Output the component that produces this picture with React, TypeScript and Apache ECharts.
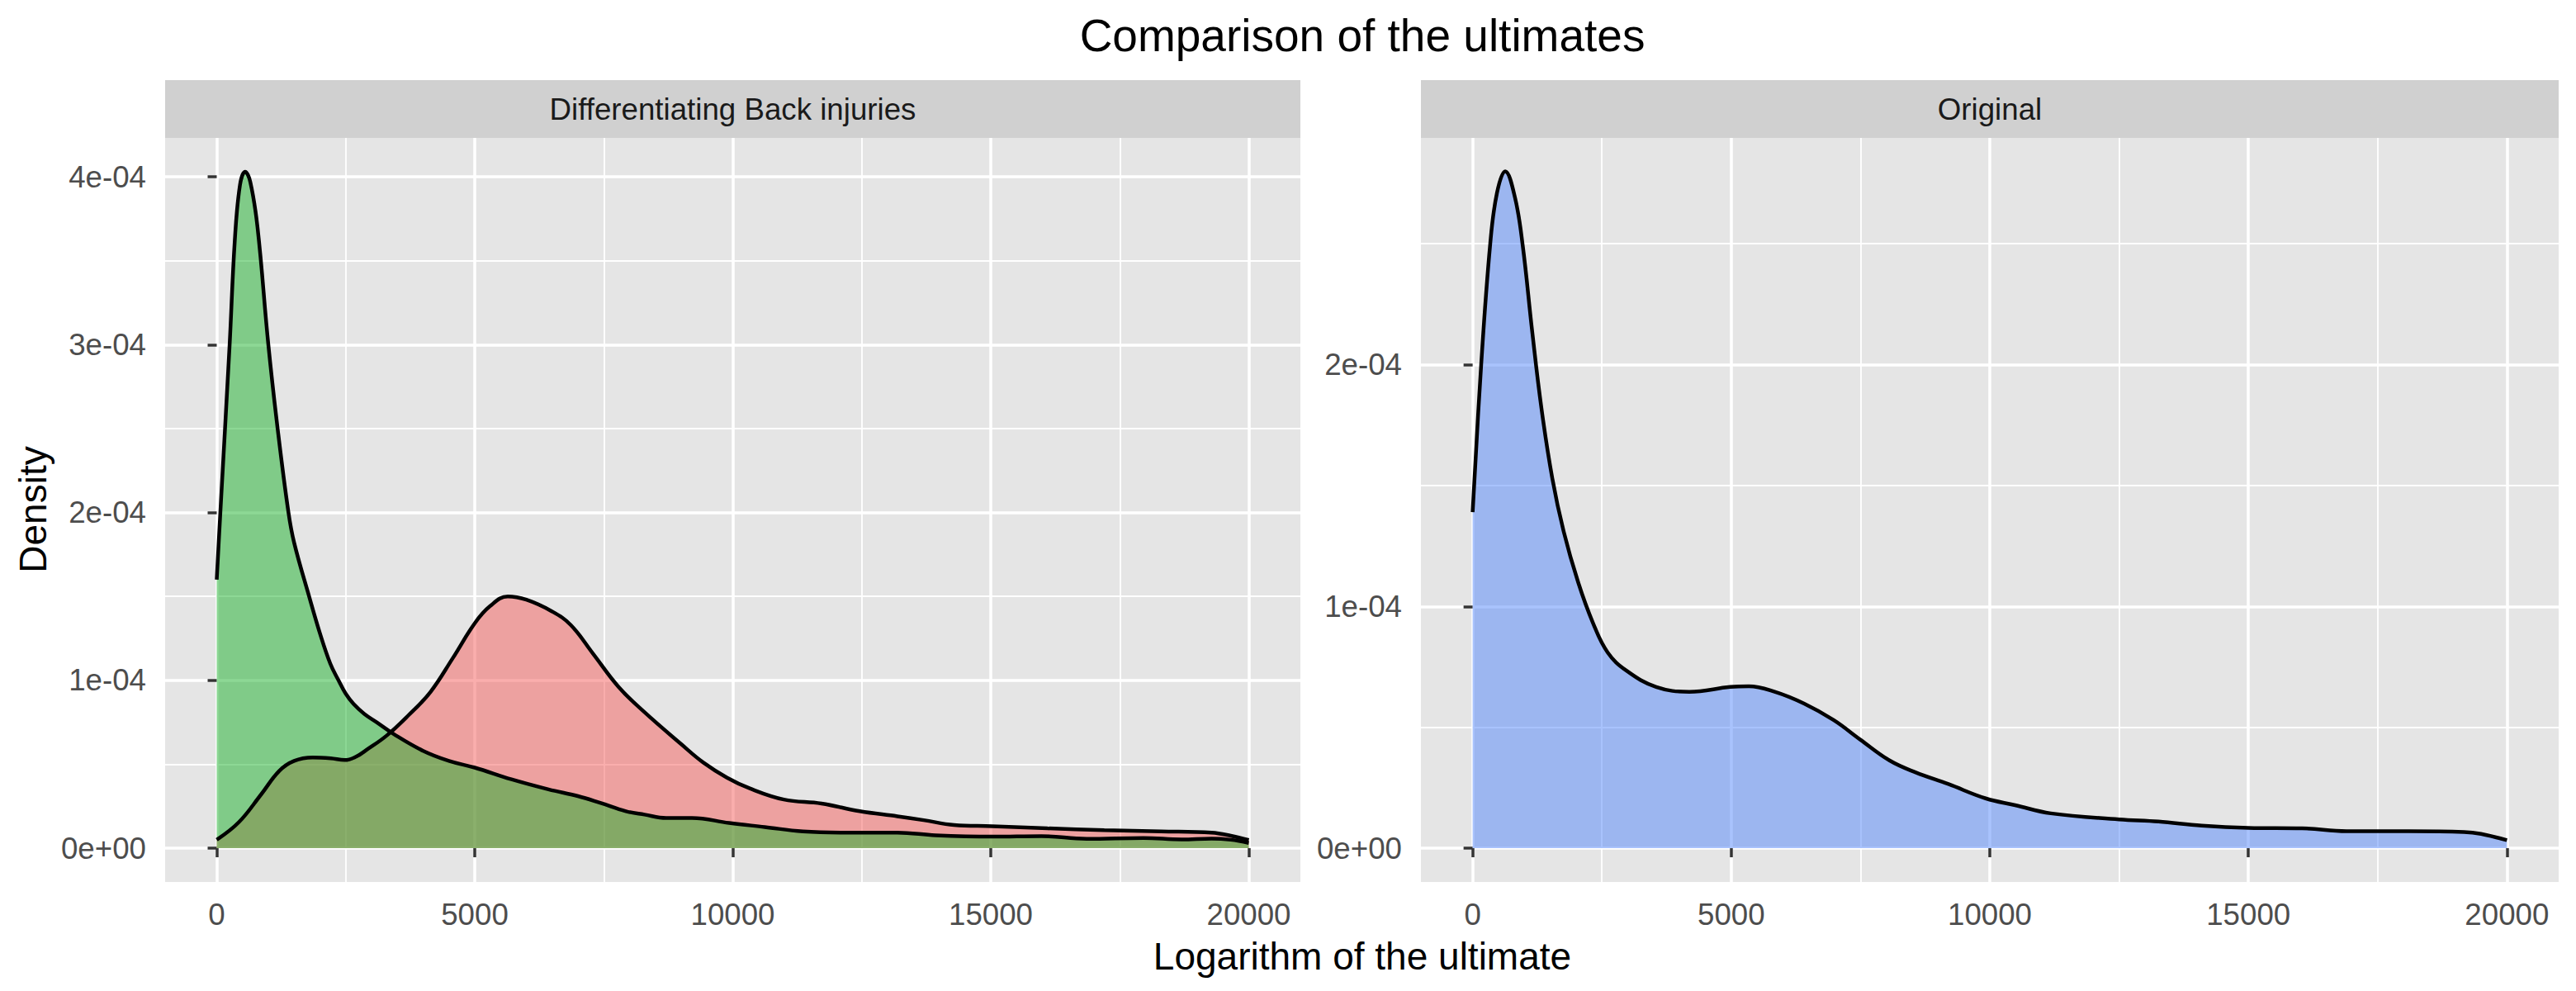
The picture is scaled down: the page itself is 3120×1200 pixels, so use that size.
import { useEffect, useRef } from 'react'
import * as echarts from 'echarts'

const FONT = '"Liberation Sans", Arial, Helvetica, sans-serif'

// "Differentiating Back injuries" facet: two groups
const redX = [0, 430, 860, 1210, 1500, 1860, 2210, 2480, 2700, 2900, 3290, 3710, 4140, 4570, 5000, 5290, 5640, 6000, 6500, 6860, 7290, 7790, 8290, 9000, 9430, 9890, 10330, 10990, 11720, 12460, 13190, 13700, 14290, 15030, 16100, 17200, 18300, 19280, 19650, 20000]
const redY = [0.05e-4, 0.155e-4, 0.32e-4, 0.46e-4, 0.52e-4, 0.54e-4, 0.535e-4, 0.525e-4, 0.545e-4, 0.585e-4, 0.67e-4, 0.79e-4, 0.93e-4, 1.13e-4, 1.34e-4, 1.44e-4, 1.5e-4, 1.48e-4, 1.41e-4, 1.33e-4, 1.16e-4, 0.96e-4, 0.81e-4, 0.62e-4, 0.51e-4, 0.42e-4, 0.356e-4, 0.29e-4, 0.266e-4, 0.22e-4, 0.19e-4, 0.167e-4, 0.138e-4, 0.131e-4, 0.118e-4, 0.107e-4, 0.1e-4, 0.092e-4, 0.074e-4, 0.048e-4]

const greenX = [0, 70, 250, 350, 450, 550, 650, 790, 1000, 1180, 1390, 1500, 1790, 2000, 2200, 2360, 2500, 2650, 2860, 3100, 3430, 4000, 4500, 5000, 5710, 6430, 7000, 7430, 7930, 8290, 8710, 9210, 9930, 10620, 11360, 12460, 13190, 13930, 15030, 15980, 16860, 17960, 18700, 19280, 19650, 20000]
const greenY = [1.6e-4, 2.0e-4, 3.0e-4, 3.62e-4, 3.95e-4, 4.03e-4, 3.97e-4, 3.7e-4, 3.0e-4, 2.5e-4, 2.0e-4, 1.82e-4, 1.5e-4, 1.28e-4, 1.1e-4, 1.0e-4, 0.92e-4, 0.86e-4, 0.8e-4, 0.75e-4, 0.68e-4, 0.58e-4, 0.52e-4, 0.48e-4, 0.41e-4, 0.35e-4, 0.31e-4, 0.27e-4, 0.22e-4, 0.2e-4, 0.18e-4, 0.18e-4, 0.15e-4, 0.126e-4, 0.1e-4, 0.092e-4, 0.093e-4, 0.077e-4, 0.069e-4, 0.072e-4, 0.056e-4, 0.061e-4, 0.052e-4, 0.057e-4, 0.05e-4, 0.031e-4]

// "Original" facet
const blueX = [0, 165, 340, 470, 630, 820, 970, 1150, 1330, 1540, 1760, 2040, 2330, 2610, 2970, 3550, 4190, 4980, 5340, 5840, 6410, 6980, 7490, 8060, 8560, 9200, 9920, 10490, 11180, 12500, 13260, 14100, 15000, 16040, 16900, 18100, 19170, 19500, 20000]
const blueY = [1.39e-4, 2.0e-4, 2.5e-4, 2.71e-4, 2.8e-4, 2.69e-4, 2.49e-4, 2.14e-4, 1.82e-4, 1.53e-4, 1.31e-4, 1.1e-4, 0.93e-4, 0.81e-4, 0.735e-4, 0.667e-4, 0.647e-4, 0.667e-4, 0.67e-4, 0.647e-4, 0.598e-4, 0.53e-4, 0.45e-4, 0.363e-4, 0.314e-4, 0.265e-4, 0.206e-4, 0.178e-4, 0.144e-4, 0.119e-4, 0.11e-4, 0.093e-4, 0.084e-4, 0.082e-4, 0.07e-4, 0.07e-4, 0.067e-4, 0.059e-4, 0.033e-4]

const xMajor = [0, 5000, 10000, 15000, 20000]
const xMinor = [2500, 7500, 12500, 17500]
const leftYMajor = [0, 1e-4, 2e-4, 3e-4, 4e-4]
const leftYMinor = [0.5e-4, 1.5e-4, 2.5e-4, 3.5e-4]
const rightYMajor = [0, 1e-4, 2e-4]
const rightYMinor = [0.5e-4, 1.5e-4, 2.5e-4]

const facetNames = ['Differentiating Back injuries', 'Original']

const sci = (v: number) => (v === 0 ? '0e+00' : `${Math.round(v * 1e4)}e-04`)

const GRIDS = [
  { left: 200, top: 167, width: 1375, height: 901 },
  { left: 1721, top: 167, width: 1378, height: 901 },
]

function xAxes(gridIndex: number) {
  return [
    {
      type: 'value', gridIndex, min: -1000, max: 21000,
      axisLine: { show: false },
      axisTick: { customValues: xMajor, length: 11, lineStyle: { color: '#333333', width: 3.5 } },
      axisLabel: {
        customValues: xMajor, margin: 21, fontSize: 36.7, color: '#4D4D4D', fontFamily: FONT,
        formatter: (v: number) => String(v),
      },
      splitLine: { show: true, lineStyle: { color: '#ffffff', width: 3.5 } },
    },
    {
      type: 'value', gridIndex, min: -1000, max: 21000, position: 'bottom',
      axisLine: { show: false },
      axisTick: { show: false, customValues: xMinor },
      axisLabel: { show: false, customValues: xMinor },
      splitLine: { show: true, lineStyle: { color: '#ffffff', width: 1.8 } },
    },
  ]
}

function yAxes(gridIndex: number, min: number, max: number, major: number[], minor: number[]) {
  return [
    {
      type: 'value', gridIndex, min, max,
      axisLine: { show: false },
      axisTick: { customValues: major, length: 11, lineStyle: { color: '#333333', width: 3.5 } },
      axisLabel: { customValues: major, margin: 23, fontSize: 36.7, color: '#4D4D4D', fontFamily: FONT, formatter: sci },
      splitLine: { show: true, lineStyle: { color: '#ffffff', width: 3.5 } },
    },
    {
      type: 'value', gridIndex, min, max, position: 'left',
      axisLine: { show: false },
      axisTick: { show: false, customValues: minor },
      axisLabel: { show: false, customValues: minor },
      splitLine: { show: true, lineStyle: { color: '#ffffff', width: 1.8 } },
    },
  ]
}

function density(name: string, xs: number[], ys: number[], color: string, axisIndex: number) {
  return {
    name,
    type: 'line',
    xAxisIndex: axisIndex,
    yAxisIndex: axisIndex,
    data: xs.map((x, i) => [x, ys[i]]),
    smooth: 0.4,
    symbol: 'none',
    showSymbol: false,
    lineStyle: { color: '#000000', width: 4.5 },
    areaStyle: { color, opacity: 0.5, origin: 'auto' },
    z: 3,
  }
}

export default function App() {
  const chartRef = useRef<HTMLDivElement>(null)

  useEffect(() => {
    if (!chartRef.current) return
    document.body.style.margin = '0'

    const chart = echarts.init(chartRef.current, null, { renderer: 'svg' })

    const strips = GRIDS.flatMap((g, i) => [
      {
        type: 'rect',
        shape: { x: g.left, y: 97, width: g.width, height: 70 },
        style: { fill: '#D0D0D0' },
        silent: true,
      },
      {
        type: 'text',
        x: g.left + g.width / 2,
        y: 132,
        style: {
          text: facetNames[i], fill: '#1A1A1A', fontSize: 36.7, fontFamily: FONT,
          textAlign: 'center', textVerticalAlign: 'middle',
        },
        silent: true,
      },
    ])

    const option = {
      animation: false,
      textStyle: { fontFamily: FONT },
      grid: GRIDS.map(g => ({ ...g, show: true, backgroundColor: '#E5E5E5', borderWidth: 0, containLabel: false })),
      xAxis: [...xAxes(0), ...xAxes(1)],
      yAxis: [
        ...yAxes(0, -0.2015e-4, 4.2315e-4, leftYMajor, leftYMinor),
        ...yAxes(1, -0.1399e-4, 2.938e-4, rightYMajor, rightYMinor),
      ],
      series: [
        density('Back injury', redX, redY, '#F55D5B', 0),
        density('Other', greenX, greenY, '#1BB12B', 0),
        density('Original', blueX, blueY, '#5387FB', 2),
      ],
      graphic: [
        ...strips,
        {
          type: 'text', x: 1650, y: 43,
          style: {
            text: 'Comparison of the ultimates', fill: '#000000', fontSize: 55, fontFamily: FONT,
            textAlign: 'center', textVerticalAlign: 'middle',
          },
          silent: true,
        },
        {
          type: 'text', x: 1650, y: 1158,
          style: {
            text: 'Logarithm of the ultimate', fill: '#000000', fontSize: 46, fontFamily: FONT,
            textAlign: 'center', textVerticalAlign: 'middle',
          },
          silent: true,
        },
        {
          type: 'text', x: 40, y: 617, rotation: Math.PI / 2,
          style: {
            text: 'Density', fill: '#000000', fontSize: 46, fontFamily: FONT,
            textAlign: 'center', textVerticalAlign: 'middle',
          },
          silent: true,
        },
      ],
    }

    chart.setOption(option as any)

    return () => {
      chart.dispose()
    }
  }, [])

  return <div ref={chartRef} style={{ width: '3120px', height: '1200px' }} />
}
